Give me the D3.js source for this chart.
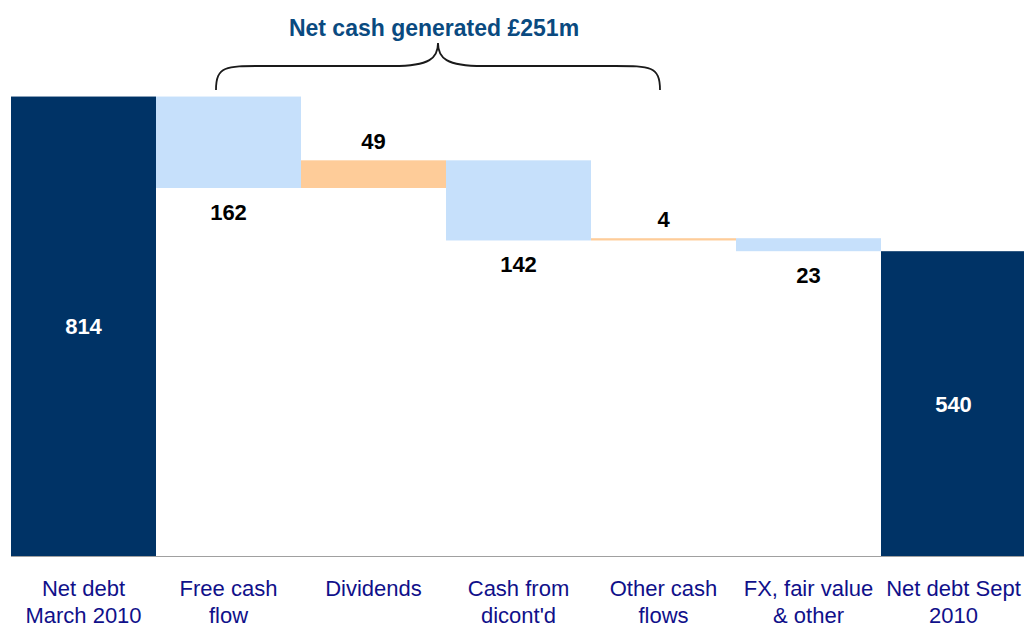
<!DOCTYPE html>
<html>
<head>
<meta charset="utf-8">
<title>Net debt bridge</title>
<style>
  body { margin: 0; background: #fff; }
  text { font-family: "Liberation Sans", Arial, sans-serif; }
</style>
</head>
<body>
<script src="https://d3js.org/d3.v7.min.js"></script>
<script>

var width = 1024,
    height = 628;

// data
var categories = ["Net debt March 2010", "Free cash flow", "Dividends", "Cash from dicont'd", "Other cash flows", "FX, fair value & other", "Net debt Sept 2010"];
var labelLines = [["Net debt", "March 2010"], ["Free cash", "flow"], ["Dividends"], ["Cash from", "dicont'd"], ["Other cash", "flows"], ["FX, fair value", "& other"], ["Net debt Sept", "2010"]];
var changes = [814, -162, 49, -142, 4, -23, 540];
var kinds = ["total", "delta", "delta", "delta", "delta", "delta", "total"];
var braceText = "Net cash generated £251m";

var navy = "#003366",
    lightBlue = "#c6e0fb",
    peach = "#fecc99",
    labelColor = "#10108a";

var svg = d3.select("body").append("svg")
    .attr("width", width)
    .attr("height", height);

var x = d3.scaleBand()
    .domain(categories)
    .range([11, 1026])
    .padding(0);

var y = d3.scaleLinear()
    .domain([0, 900])
    .range([556, 48]);

// running totals for the waterfall
var level = 0;
var bars = categories.map(function(c, i) {
  var v = changes[i], start, end;
  if (kinds[i] == "total") { start = 0; end = v; level = v; }
  else { start = level; end = level + v; level = end; }
  return { cat: c, value: v, kind: kinds[i], lo: Math.min(start, end), hi: Math.max(start, end) };
});

svg.selectAll("rect.bar")
  .data(bars)
  .enter().append("rect")
    .attr("class", "bar")
    .attr("x", function(d) { return x(d.cat); })
    .attr("width", x.bandwidth())
    .attr("y", function(d) { return y(d.hi); })
    .attr("height", function(d) { return Math.max(2, y(d.lo) - y(d.hi)); })
    .attr("fill", function(d) {
      if (d.kind == "total") return navy;
      return d.value < 0 ? lightBlue : peach;
    });

// baseline
svg.append("line")
    .attr("x1", 11).attr("x2", 1024)
    .attr("y1", y(0) + 0.5).attr("y2", y(0) + 0.5)
    .attr("stroke", "#a0a0a0")
    .attr("stroke-width", 1.2);

// value labels
svg.selectAll("text.val")
  .data(bars)
  .enter().append("text")
    .attr("class", "val")
    .attr("x", function(d) { return x(d.cat) + x.bandwidth() / 2; })
    .attr("y", function(d) {
      if (d.kind == "total") return (y(d.lo) + y(d.hi)) / 2 + 8;
      if (d.value < 0) return y(d.lo) + 32;
      return y(d.hi) - 11;
    })
    .attr("text-anchor", "middle")
    .attr("font-size", 22)
    .attr("font-weight", "bold")
    .attr("fill", function(d) { return d.kind == "total" ? "#fff" : "#000"; })
    .text(function(d) { return Math.abs(d.value); });

// category labels
var cat = svg.selectAll("text.cat")
  .data(categories)
  .enter().append("text")
    .attr("class", "cat")
    .attr("text-anchor", "middle")
    .attr("font-size", 22)
    .attr("fill", labelColor)
    .attr("x", function(d) { return x(d) + x.bandwidth() / 2; })
    .attr("y", 596);

cat.selectAll("tspan")
  .data(function(d, i) { return labelLines[i]; })
  .enter().append("tspan")
    .attr("x", function() { var p = this.parentNode; return p.getAttribute("x"); })
    .attr("dy", function(d, i) { return i == 0 ? 0 : 27; })
    .text(function(d) { return d; });

// brace over free cash flow .. other cash flows
var bx0 = 216, bx1 = 660, bmid = 438, byEnd = 90, byLine = 66, byTip = 43;
var brace = d3.path();
brace.moveTo(bx0, byEnd);
brace.bezierCurveTo(bx0, byLine, bx0 + 10, byLine, bx0 + 45, byLine);
brace.lineTo(bmid - 45, byLine);
brace.bezierCurveTo(bmid - 8, byLine, bmid, byLine - 8, bmid, byTip);
brace.bezierCurveTo(bmid, byLine - 8, bmid + 8, byLine, bmid + 45, byLine);
brace.lineTo(bx1 - 45, byLine);
brace.bezierCurveTo(bx1 - 10, byLine, bx1, byLine, bx1, byEnd);

svg.append("path")
    .attr("d", brace.toString())
    .attr("fill", "none")
    .attr("stroke", "#1a1a1a")
    .attr("stroke-width", 1.8);

svg.append("text")
    .attr("x", 434)
    .attr("y", 36)
    .attr("text-anchor", "middle")
    .attr("font-size", 23)
    .attr("font-weight", "bold")
    .attr("fill", "#0a4a80")
    .text(braceText);

</script>
</body>
</html>
